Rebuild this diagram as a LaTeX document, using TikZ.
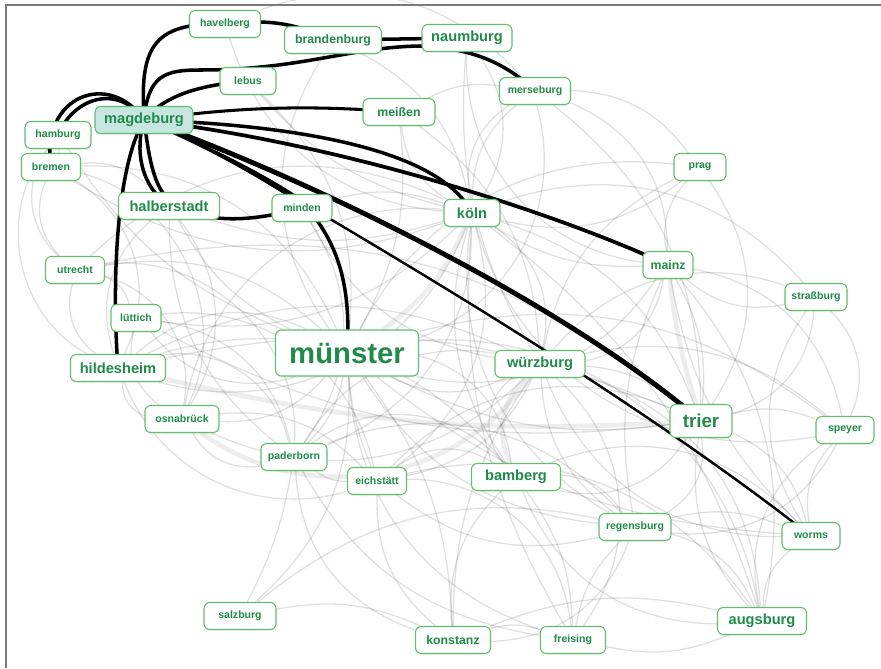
\documentclass[tikz,border=0pt]{standalone}
\usepackage{fontspec}
\setsansfont{Liberation Sans}
\usepackage{tikz}
\usetikzlibrary{backgrounds}
\usetikzlibrary{shadows}
\definecolor{hw-text}{HTML}{208B48}
\definecolor{hw-line}{HTML}{63BE6B}
\definecolor{hw-ego}{HTML}{C7E6E1}
\definecolor{hw-frame}{HTML}{7A7A7A}

\begin{document}
\begin{tikzpicture}[
    x=0.03cm, y=-0.03cm,
    city/.style={draw=hw-line, line width=0.9pt, fill=white, rounded corners=5pt, text=hw-text, inner sep=0pt, minimum width=#1*0.03cm, minimum height=0.81cm, font=\sffamily\bfseries\fontsize{9}{11}\selectfont, drop shadow={opacity=0.10, shadow xshift=0pt, shadow yshift=-1.6pt}},
    cityM/.style={font=\sffamily\bfseries\fontsize{12.5}{15}\selectfont},
    cityN/.style={font=\sffamily\bfseries\fontsize{10.5}{12}\selectfont},
    ego/.style={fill=hw-ego},
    ghost/.style={draw=black, opacity=0.12, line width=1.1pt},
    band/.style={draw=black, opacity=0.07, line width=4pt},
    tie/.style={draw=black, line width=3pt}
]
\useasboundingbox (0,0) rectangle (881,668);

% ── Rahmen ─────────────────────────────────────────
\draw[hw-frame, line width=1.4pt] (6,668) -- (6,5) -- (881,5);

% ── Orte ───────────────────────────────────────────
\node[city=71] (hav) at (225,24) {havelberg};
\node[city=97, cityN] (bra) at (333,40) {brandenburg};
\node[city=90, cityM] (nau) at (467,38) {naumburg};
\node[city=56] (leb) at (248,81) {lebus};
\node[city=71] (mer) at (535,91) {merseburg};
\node[city=72, cityN] (mei) at (399,112) {meißen};
\node[city=98, cityM, ego] (mag) at (144,120) {magdeburg};
\node[city=66] (ham) at (58,135) {hamburg};
\node[city=59] (bre) at (51,167) {bremen};
\node[city=52] (pra) at (700,167) {prag};
\node[city=101, cityM] (hal) at (169,206) {halberstadt};
\node[city=60] (min) at (302,208) {minden};
\node[city=56, cityM] (kol) at (472,213) {köln};
\node[city=59] (utr) at (75,270) {utrecht};
\node[city=50, cityN] (mai) at (668,265) {mainz};
\node[city=62] (str) at (816,297) {straßburg};
\node[city=50] (lut) at (136,318) {lüttich};
\node[city=143, minimum height=1.38cm, font=\sffamily\bfseries\fontsize{25}{28}\selectfont] (mun) at (347,353) {münster};
\node[city=95, cityM] (hil) at (118,368) {hildesheim};
\node[city=90, cityM] (wur) at (540,364) {würzburg};
\node[city=74] (osn) at (182,419) {osnabrück};
\node[city=62, minimum height=0.99cm, font=\sffamily\bfseries\fontsize{16}{18}\selectfont] (tri) at (701,421) {trier};
\node[city=58] (spe) at (845,430) {speyer};
\node[city=66] (pad) at (294,457) {paderborn};
\node[city=59] (eic) at (377,481) {eichstätt};
\node[city=89, cityM] (bam) at (516,477) {bamberg};
\node[city=72] (reg) at (635,527) {regensburg};
\node[city=58] (wor) at (811,536) {worms};
\node[city=72] (sal) at (240,616) {salzburg};
\node[city=75, cityN] (kon) at (453,640) {konstanz};
\node[city=65] (fre) at (573,640) {freising};
\node[city=89, cityM] (aug) at (762,621) {augsburg};

\begin{scope}[on background layer]
% ── graue Verbindungen ─────────────────────────────
\foreach \a/\b/\c [evaluate=\c as \bb using 1.7*\c] in {
    mun/wur/-15, mun/tri/-10, mun/bam/20, mun/pad/10, mun/eic/-5, mun/osn/15, mun/hil/-20,
    mun/lut/20, mun/utr/-15, mun/hal/10, mun/mai/-20, mun/aug/25, mun/reg/-15, mun/kon/10,
    mun/fre/-20, mun/spe/15, mun/mer/-25, mun/pra/20, mun/bre/-20, mun/sal/15, mun/wor/-10,
    kol/tri/15, kol/mai/-10, kol/wur/20, kol/bam/-15, kol/hil/25, kol/utr/-20, kol/lut/15,
    kol/pra/-15, kol/str/20, kol/spe/-25, kol/mer/15, kol/eic/20, kol/fre/-10, kol/aug/10,
    kol/reg/-20, kol/osn/-25, kol/pad/20, kol/bre/15,
    wur/bam/-30, wur/tri/10, wur/mai/-20, wur/aug/20, wur/reg/-15, wur/fre/25, wur/hil/-15,
    wur/osn/20, wur/pad/-20, wur/spe/15, wur/wor/-20, wur/eic/15, wur/kon/-10, wur/str/20,
    tri/mai/-10, tri/spe/10, tri/str/-20, tri/wor/15, tri/hil/-10, tri/bam/20, tri/aug/-15,
    tri/lut/10, tri/utr/-15, tri/reg/20, tri/eic/-20,
    hil/hal/20, hil/osn/-20, hil/pad/25, hil/bre/-25, hil/utr/20, hil/eic/-25, hil/bam/20,
    bam/eic/-20, bam/reg/15, bam/aug/-20, bam/fre/10, bam/kon/-15, bam/wor/20, bam/pad/-25,
    mai/str/-15, mai/spe/20, mai/wor/-10, mai/pra/15, mai/mer/-20, mai/aug/15, mai/reg/-10,
    aug/kon/-10, aug/fre/10, aug/reg/-15, aug/wor/15, aug/spe/20, aug/eic/-20,
    kon/fre/10, kon/sal/-10, kon/eic/15, kon/reg/-20, kon/pad/20,
    sal/pad/-5, sal/reg/15, fre/reg/10, fre/eic/-25, fre/pad/15,
    mer/pra/15, mer/kol/-20, nau/kol/20, mei/kol/-15, mei/mer/10, nau/mai/-25, bra/kol/15,
    leb/kol/-10, hav/mer/20, mei/wur/15, nau/wur/-10, mer/tri/15, bra/mun/-20, leb/mun/15,
    hav/kol/-20, mei/mun/10, min/kol/10, min/wur/-15, min/pad/20, hal/kol/-10,
    ham/bre/10, bre/utr/-20, utr/lut/15, ham/utr/-25, bre/osn/30, ham/hil/-30, utr/osn/25,
    lut/osn/-20, lut/pad/20, utr/pad/30, bre/hal/15, ham/mun/-10, hal/osn/20, hal/pad/-15,
    lut/eic/25, osn/pad/-20, osn/eic/15, pad/eic/-10,
    str/spe/20, pra/tri/20, pra/wur/-15, spe/wor/-15, spe/reg/20, str/wor/-20,
    reg/wor/10, eic/reg/-15, pad/reg/20}
    \draw[ghost] (\a) to[bend left=\bb] (\b);
\foreach \a/\b/\c in {kol/mun/15, mai/tri/-5, osn/wur/-45, bam/wur/35, hil/tri/-8}
    \draw[band] (\a) to[bend left=\c] (\b);

% ── Verbindungen von magdeburg ─────────────────────
\draw[tie] (mag.center) .. controls (140,50) and (150,22) .. (hav.center)
    .. controls (275,18) and (300,26) .. (bra.center) -- (nau.center);
\draw[tie] (mag.center) .. controls (148,75) and (165,70) .. (200,70)
    .. controls (300,70) and (350,47) .. (420,46) .. controls (470,48) and (505,62) .. (mer.center);
\draw[tie] (mag.center) .. controls (165,95) and (200,85) .. (leb.center);
\draw[tie, line width=2.6pt] (mag.center) .. controls (250,105) and (320,106) .. (mei.center);
\draw[tie] (mag.center) .. controls (300,125) and (440,150) .. (kol.center);
\draw[tie, line width=3.2pt] (mag.center) .. controls (350,145) and (560,215) .. (mai.center);
\draw[tie, line width=4.2pt] (mag.center) .. controls (300,175) and (560,300) .. (tri.center);
\draw[tie] (mag.center) .. controls (150,165) and (155,200) .. (185,210)
    .. controls (215,222) and (250,222) .. (min.center);
\draw[tie] (mag.center) .. controls (220,150) and (280,190) .. (305,205)
    .. controls (335,240) and (352,280) .. (mun.center);
\draw[tie, line width=2.1pt] (mag.center) .. controls (230,155) and (290,190) .. (315,210)
    .. controls (450,290) and (650,410) .. (wor.center);
\draw[tie] (mag.center) .. controls (135,150) and (140,185) .. (hal.center);
\draw[tie] (mag.center) .. controls (115,170) and (112,290) .. (hil.center);
\draw[tie] (mag.center) .. controls (120,85) and (75,95) .. (ham.center);
\draw[tie] (mag.center) .. controls (110,70) and (40,95) .. (bre.center);
\end{scope}

\end{tikzpicture}
\end{document}
